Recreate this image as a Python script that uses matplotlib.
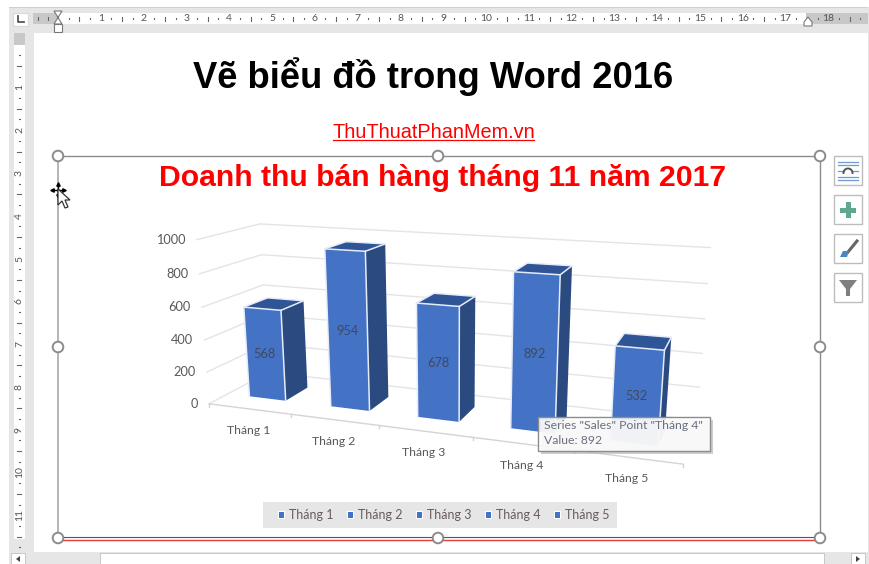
import numpy as np
import matplotlib
matplotlib.use("Agg")
import matplotlib.pyplot as plt
from matplotlib.patches import Rectangle, Polygon, Circle

# ---------- data ----------
categories = ["Tháng 1", "Tháng 2", "Tháng 3", "Tháng 4", "Tháng 5"]
sales = [568, 954, 678, 892, 532]
value_ticks = [0, 200, 400, 600, 800, 1000]
doc_title = "Vẽ biểu đồ trong Word 2016"
doc_link = "ThuThuatPhanMem.vn"
chart_title = "Doanh thu bán hàng tháng 11 năm 2017"
tooltip_lines = ['Series "Sales" Point "Tháng 4"', "Value: 892"]

FRONT, SIDE, TOP, EDGE = "#4472C4", "#2A4A80", "#2F5597", "#E6ECF7"
GRID, LABEL = "#E4E4E4", "#595959"
CHROME = "#E6E6E6"

fig = plt.figure(figsize=(8.7, 5.64), dpi=100, facecolor="white")
ax = fig.add_axes([0, 0, 1, 1])
ax.set_xlim(0, 870)
ax.set_ylim(564, 0)
ax.axis("off")

bar_l, bar_r, dep_f, dep_b = .273, .727, .3, .7

# ---------- camera of the 3-D chart: (category, depth, value) -> pixels ----------
calib = [
    ((0, 0, 0), (209.3, 402.7)), ((0, 1, 0), (265, 378)),
    ((5, 0, 0), (682, 467)), ((5, 1, 0), (696, 420)),
    ((0, 0, 1000), (196.7, 239)), ((0, 1, 1000), (261.7, 224)),
    ((5, 1, 1000), (710, 247)), ((5, 1, 600), (705, 318)),
    ((1, 0, 0), (290.7, 416.7)), ((2, 0, 0), (378, 426.7)),
    ((3, 0, 0), (472, 440)), ((4, 0, 0), (573, 453)),
    ((0, 0, 0), (209.3, 402.7)), ((5, 0, 0), (682, 467)),
]
corners = [
    # bar, value, front-left-bottom, front-right-bottom, back-right-bottom,
    # front-left-top, front-right-top, back-right-top, back-left-top
    (0, sales[0], (247.7, 395), (287.3, 400), (309.3, 386.7), (243.3, 306.7), (283.3, 310), (306, 301.7), (265, 297.3)),
    (1, sales[1], (329, 405), (371.7, 410), (390.7, 395), (323.3, 249.3), (368.3, 251.7), (387.7, 244.3), (340, 241.7)),
    (2, sales[2], (416, 415.7), (460.7, 421), (476.7, 406.7), (415, 303.3), (461.7, 306), (476.7, 297.3), (433, 292.7)),
    (3, sales[3], (509, 426.7), (557.7, 431.7), None, (511.7, 271.7), (561.7, 274.3), (573.3, 266.7), (525, 262.7)),
    (4, sales[4], (609, 438), (660.7, 444), None, (612.7, 345.7), (666.7, 350), (672.3, 338.3), (623.3, 333.3)),
]
for i, val, flb, frb, brb, flt, frt, brt, blt in corners:
    l, r = i + bar_l, i + bar_r
    calib += [((l, dep_f, 0), flb), ((r, dep_f, 0), frb),
              ((l, dep_f, val), flt), ((r, dep_f, val), frt),
              ((r, dep_b, val), brt), ((l, dep_b, val), blt)]
    if brb:
        calib.append(((r, dep_b, 0), brb))
A, b = [], []
for (X, Y, Z), (u, v) in calib:
    Z = Z / 1000
    A.append([X, Y, Z, 1, 0, 0, 0, 0, -u * X, -u * Y, -u * Z]); b.append(u)
    A.append([0, 0, 0, 0, X, Y, Z, 1, -v * X, -v * Y, -v * Z]); b.append(v)
p = np.linalg.lstsq(np.array(A), np.array(b), rcond=None)[0]


def proj(x, d, val):
    z = val / 1000
    w = p[8] * x + p[9] * d + p[10] * z + 1
    return ((p[0] * x + p[1] * d + p[2] * z + p[3]) / w,
            (p[4] * x + p[5] * d + p[6] * z + p[7]) / w)


def line3(a, c, color=GRID, lw=1.0, zo=2):
    pa, pc = proj(*a), proj(*c)
    ax.plot([pa[0], pc[0]], [pa[1], pc[1]], color=color, lw=lw, zorder=zo,
            solid_capstyle="round")


# ---------- screenshot chrome ----------
ax.add_patch(Rectangle((9, 7), 861, 26, fc=CHROME, ec="none", zorder=0))
ax.add_patch(Rectangle((9, 7), 25, 545, fc=CHROME, ec="none", zorder=0))
ax.add_patch(Rectangle((9, 552), 861, 12, fc=CHROME, ec="none", zorder=0))
ax.add_patch(Rectangle((868, 33), 2, 519, fc=CHROME, ec="none", zorder=0))
ax.add_patch(Rectangle((9, 6.5), 859, 1.5, fc="#D0D0D0", ec="none", zorder=0))
# horizontal ruler
ax.add_patch(Rectangle((33, 13), 835, 11, fc="white", ec="none", zorder=1))
ax.add_patch(Rectangle((33, 13), 25, 11, fc="#C8C8C8", ec="none", zorder=1))
ax.add_patch(Rectangle((806, 13), 62, 11, fc="#C8C8C8", ec="none", zorder=1))
for n in range(0, 19):
    xn = 58 + 42.8 * n
    if n:
        ax.text(xn, 18.5, str(n), fontsize=7.5, color="#555555", ha="center",
                va="center", family="Lato", zorder=3)
    for q, h in ((.25, .5), (.5, 2), (.75, .5)):
        ax.plot([xn + 42.8 * q] * 2, [18.5 - h, 18.5 + h], color="#666666", lw=.8, zorder=2)
for xn in (37.7, 48.3):
    ax.plot([xn] * 2, [17, 20], color="#666666", lw=.8, zorder=2)
# vertical ruler
ax.add_patch(Rectangle((14, 33), 11, 506, fc="white", ec="none", zorder=1))
ax.add_patch(Rectangle((14, 33), 11, 12, fc="#C8C8C8", ec="none", zorder=1))
for n in range(0, 12):
    yn = 44.5 + 42.8 * n
    if n:
        ax.text(19.5, yn, str(n), fontsize=7.5, color="#555555", ha="center",
                va="center", rotation=90, family="Lato", zorder=3)
    for q, h in ((.25, .5), (.5, 2), (.75, .5)):
        ax.plot([19.5 - h, 19.5 + h], [yn + 42.8 * q] * 2, color="#666666", lw=.8, zorder=2)
# tab selector and indent markers
ax.add_patch(Rectangle((13, 13), 15, 13, fc="white", ec="#D8D8D8", lw=.8, zorder=3))
ax.plot([18, 18, 24], [16, 22, 22], color="#555555", lw=1.3, zorder=4)
ax.add_patch(Polygon([(54, 11), (62, 11), (54, 24), (62, 24)], fc="white", ec="#777777", lw=.8, zorder=4))
ax.add_patch(Rectangle((54, 24), 8, 8, fc="white", ec="#777777", lw=.8, zorder=4))
ax.add_patch(Polygon([(804, 26), (804, 22), (808, 17), (812, 22), (812, 26)], fc="white", ec="#777777", lw=.8, zorder=4))
# bottom scrollbar
ax.add_patch(Rectangle((100, 553), 724, 11, fc="white", ec="#C0C0C0", lw=.6, zorder=1))
for x0 in (11, 851):
    ax.add_patch(Rectangle((x0, 553), 14, 11, fc="white", ec="#C0C0C0", lw=.6, zorder=1))
ax.add_patch(Polygon([(20, 556), (20, 562), (16, 559)], fc="#444444", ec="none", zorder=2))
ax.add_patch(Polygon([(856, 556), (856, 562), (860, 559)], fc="#444444", ec="none", zorder=2))

# ---------- document text ----------
ax.text(433, 76.5, doc_title, fontsize=26.2, fontweight="bold", family="Liberation Sans",
        color="black", ha="center", va="center", zorder=5)
ax.text(433.5, 132.5, doc_link, fontsize=14.3, family="Liberation Sans", color="#FF0000",
        ha="center", va="center", zorder=5)
ax.plot([333, 534], [139.5, 139.5], color="#FF0000", lw=.9, zorder=5)
ax.text(443, 178.5, chart_title, fontsize=21.7, fontweight="bold", family="Liberation Sans",
        color="#FF0000", ha="center", va="center", zorder=5)

# ---------- chart walls ----------
for t in value_ticks:
    line3((0, 0, t), (0, 1, t))
    line3((0, 1, t), (5, 1, t))
    px, py = proj(0, 0, t)
    ax.text(px - 11, py, str(t), fontsize=9.2, color=LABEL, family="Lato",
            ha="right", va="center", zorder=5)
line3((0, 0, 0), (5, 0, 0), color="#D4D4D4")
for i in range(6):
    a = proj(i, 0, 0)
    ax.plot([a[0], a[0]], [a[1], a[1] + 3], color="#D4D4D4", lw=1, zorder=2)

# ---------- bars ----------
for i, (cat, val) in enumerate(zip(categories, sales)):
    l, r = i + bar_l, i + bar_r
    side = [proj(r, dep_f, 0), proj(r, dep_b, 0), proj(r, dep_b, val), proj(r, dep_f, val)]
    top = [proj(l, dep_f, val), proj(r, dep_f, val), proj(r, dep_b, val), proj(l, dep_b, val)]
    front = [proj(l, dep_f, 0), proj(r, dep_f, 0), proj(r, dep_f, val), proj(l, dep_f, val)]
    ax.add_patch(Polygon(side, fc=SIDE, ec="none", zorder=3))
    ax.add_patch(Polygon(top, fc=TOP, ec="none", zorder=3))
    ax.add_patch(Polygon(front, fc=FRONT, ec="none", zorder=3))
    for a, c in ((front[2], front[3]), (front[1], front[2]), (front[2], top[2]),
                 (top[2], top[3]), (top[3], top[0]), (front[3], front[0])):
        ax.plot([a[0], c[0]], [a[1], c[1]], color=EDGE, lw=1.1, zorder=4,
                solid_capstyle="round")
    cx, cy = proj(i + .5, dep_f, val / 2)
    ax.text(cx, cy, str(val), fontsize=9.2, color="#404A5E", family="Lato",
            ha="center", va="center", zorder=5)
    lx, ly = proj(i + .5, 0, 0)
    ax.text(lx - 1, ly + 21.5, cat, fontsize=8.8, color=LABEL, family="Lato",
            ha="center", va="center", zorder=5)

# ---------- legend ----------
ax.add_patch(Rectangle((263, 502), 354, 25.7, fc="#E6E6E6", ec="none", zorder=3))
for i, cat in enumerate(categories):
    mx = 282 + 69 * i
    ax.add_patch(Rectangle((mx - 3.5, 511), 7, 7.5, fc="white", ec="none", zorder=4))
    ax.add_patch(Rectangle((mx - 2.5, 512), 5, 5.5, fc=FRONT, ec="none", zorder=5))
    ax.text(mx + 7, 515, cat, fontsize=9, color="#6A5A60", family="Lato",
            ha="left", va="center", zorder=5)

# ---------- tooltip ----------
ax.add_patch(Rectangle((541, 419.5), 172, 34.5, fc="#B8B8B8", ec="none", alpha=.7, zorder=6))
ax.add_patch(Rectangle((538.5, 416.7), 172, 34.3, fc="white", ec="none", alpha=.87, zorder=7))
ax.add_patch(Rectangle((538.5, 416.7), 172, 34.3, fc="none", ec="#8C8C8C", lw=1, zorder=7))
ax.text(544, 425.5, tooltip_lines[0], fontsize=8.8, color="#6B6F80", family="Lato",
        ha="left", va="center", zorder=8)
ax.text(544, 441, tooltip_lines[1], fontsize=8.8, color="#6B6F80", family="Lato",
        ha="left", va="center", zorder=8)

# ---------- selection frame ----------
ax.plot([58, 820, 820], [156, 156, 538], color="#8C8C8C", lw=1, zorder=5)
ax.plot([58, 58], [156, 538], color="#A8A8A8", lw=1.2, zorder=5)
ax.plot([58, 820], [537.0, 537.0], color="#555555", lw=.8, zorder=5)
ax.plot([58, 820], [539.5, 539.5], color="#E33B3B", lw=1.0, zorder=5)
for hx in (58, 438, 820):
    for hy in (156, 347, 538):
        if hx == 438 and hy == 347:
            continue
        ax.add_patch(Circle((hx, hy), 5.3, fc="white", ec="#8C8C8C", lw=1.4, zorder=6))

# ---------- side buttons ----------
for by in (156, 195, 234, 273):
    ax.add_patch(Rectangle((834.5, by), 27.5, 28.5, fc="white", ec="#BDBDBD", lw=1, zorder=5))
for ly in (162, 165, 177, 180):
    ax.plot([838, 858], [ly, ly], color="#6E9BD0", lw=.9, zorder=6)
ax.plot([838, 844], [171, 171], color="#6E9BD0", lw=.9, zorder=6)
ax.plot([853, 858], [171, 171], color="#6E9BD0", lw=.9, zorder=6)
th = np.linspace(np.pi, 2 * np.pi, 20)
ax.plot(848 + 4.5 * np.cos(th), 173 + 4.5 * np.sin(th), color="#555555", lw=1.4, zorder=6)
ax.plot([848, 848], [204, 215], color="#5FA88C", lw=3.6, zorder=6)
ax.plot([842.5, 853.5], [209.5, 209.5], color="#5FA88C", lw=3.6, zorder=6)
ax.plot([848, 857], [252, 241], color="#666666", lw=2.2, zorder=6)
ax.add_patch(Polygon([(840, 257), (843, 251), (849, 251), (847, 257)], fc="#4C86C6", ec="none", zorder=6))
ax.add_patch(Polygon([(839, 280), (857, 280), (850, 289), (850, 296), (846, 296), (846, 289)],
                     fc="#7F7F7F", ec="none", zorder=6))

# ---------- mouse pointer ----------
ax.plot([58, 58], [184, 196], color="black", lw=1.0, zorder=9)
ax.plot([52, 64], [190, 190], color="black", lw=1.0, zorder=9)
for m in ("^", "v"):
    ax.plot(58, 184 if m == "^" else 196, marker=m, ms=2.5, color="black", zorder=9)
for m in ("<", ">"):
    ax.plot(52 if m == "<" else 64, 190, marker=m, ms=2.5, color="black", zorder=9)
ax.add_patch(Polygon([(58, 189), (58, 205), (62, 201), (65, 208), (68, 207), (65, 200), (70, 200)],
                     fc="white", ec="#333333", lw=.9, zorder=9))

fig.savefig("out.png", dpi=100, facecolor="white")
